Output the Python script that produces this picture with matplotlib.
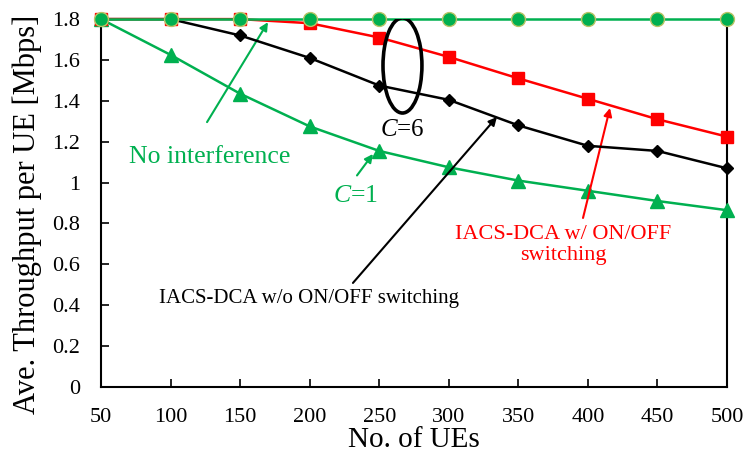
import numpy as np
import matplotlib
matplotlib.use('Agg')
import matplotlib.pyplot as plt
from matplotlib.patches import Arc

plt.rcParams['font.family'] = ['Liberation Serif', 'DejaVu Serif']
plt.rcParams['mathtext.fontset'] = 'custom'
plt.rcParams['mathtext.it'] = 'Liberation Serif:italic'
plt.rcParams['mathtext.rm'] = 'Liberation Serif'

# 数据
n_ues = [50, 100, 150, 200, 250, 300, 350, 400, 450, 500]
no_interference = [1.8, 1.8, 1.8, 1.8, 1.8, 1.8, 1.8, 1.8, 1.8, 1.8]
with_onoff = [1.8, 1.8, 1.8, 1.78, 1.71, 1.615, 1.51, 1.41, 1.31, 1.225]
without_onoff = [1.8, 1.8, 1.72, 1.61, 1.475, 1.405, 1.28, 1.18, 1.155, 1.07]
c1 = [1.8, 1.625, 1.435, 1.275, 1.155, 1.075, 1.01, 0.96, 0.91, 0.865]

x_ticks = [50, 100, 150, 200, 250, 300, 350, 400, 450, 500]
y_ticks = [0, 0.2, 0.4, 0.6, 0.8, 1.0, 1.2, 1.4, 1.6, 1.8]
y_ticklabels = ['0', '0.2', '0.4', '0.6', '0.8', '1', '1.2', '1.4', '1.6', '1.8']

GREEN = '#00B050'
RED = '#FF0000'
BLACK = '#000000'

fig = plt.figure(figsize=(7.49, 4.55), dpi=100)
ax = fig.add_axes([0.1349, 0.1495, 0.8357, 0.8085])

ax.plot(n_ues, c1, color=GREEN, lw=1.8, marker='^', ms=10, clip_on=False, zorder=3)
ax.plot(n_ues, without_onoff, color=BLACK, lw=1.8, marker='D', ms=6.5, clip_on=False, zorder=4)
ax.plot(n_ues, with_onoff, color=RED, lw=1.8, marker='s', ms=9, clip_on=False, zorder=5)
ax.plot(n_ues, no_interference, color=GREEN, lw=1.8, marker='o', ms=10,
        markerfacecolor=GREEN, markeredgecolor='#B8C466', markeredgewidth=1.0,
        clip_on=False, zorder=6)

ax.set_xlim(50, 500)
ax.set_ylim(0, 1.8)
ax.set_xticks(x_ticks)
ax.set_yticks(y_ticks)
ax.set_yticklabels(y_ticklabels)
ax.tick_params(direction='in', length=6, width=1.2, labelsize=16, pad=15)
for s in ['left', 'bottom', 'right']:
    ax.spines[s].set_linewidth(1.5)
ax.spines['top'].set_visible(False)

ax.set_xlabel('No. of UEs', fontsize=21, labelpad=0)
ax.set_ylabel('Ave. Throughput per UE [Mbps]', fontsize=22)
ax.yaxis.set_label_coords(-0.094, 0.47)

# 标注
arrow_kw = dict(arrowstyle='-|>', lw=1.5, mutation_scale=12, shrinkA=0, shrinkB=0)

ax.text(128.3, 1.125, 'No interference', color=GREEN, fontsize=18.5, ha='center', va='center')
ax.annotate('', xy=(170.0, 1.785), xytext=(126.2, 1.296),
            arrowprops=dict(color=GREEN, **arrow_kw))

ax.text(232.6, 0.935, r'$C$=1', color=GREEN, fontsize=18.5, ha='center', va='center')
ax.annotate('', xy=(245.5, 1.140), xytext=(234.0, 1.035),
            arrowprops=dict(color=GREEN, **arrow_kw))

ax.text(266.4, 1.257, r'$C$=6', color=BLACK, fontsize=18, ha='center', va='center')
ax.add_patch(Arc((266.7, 1.573), 28.0, 0.465, theta1=112, theta2=428,
                 color=BLACK, lw=2.6, zorder=7))

ax.text(199.5, 0.435, 'IACS-DCA w/o ON/OFF switching', color=BLACK, fontsize=15,
        ha='center', va='center')
ax.annotate('', xy=(334.6, 1.321), xytext=(231.1, 0.509),
            arrowprops=dict(color=BLACK, **arrow_kw))

ax.text(382.1, 0.695, 'IACS-DCA w/ ON/OFF\nswitching', color=RED, fontsize=16,
        ha='center', va='center', linespacing=1.15)
ax.annotate('', xy=(415.9, 1.365), xytext=(396.5, 0.827),
            arrowprops=dict(color=RED, **arrow_kw))

fig.savefig('out.png', dpi=100, facecolor='white')
